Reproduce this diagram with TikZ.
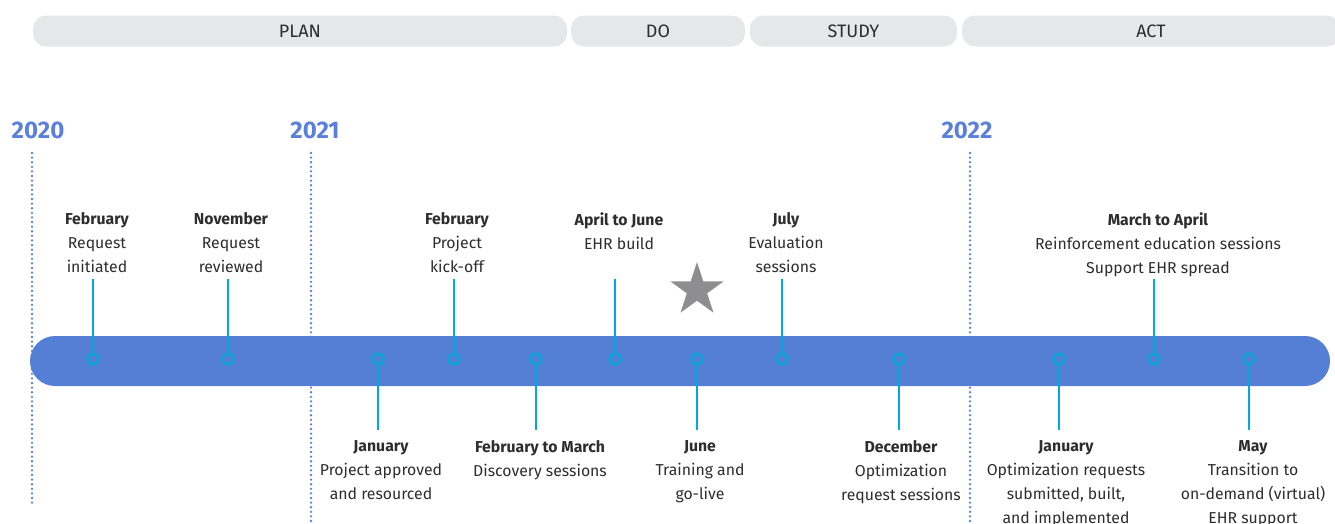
\documentclass[tikz,border=0pt]{standalone}
\usepackage{fontspec}
\setmainfont{Fira Sans}
\usetikzlibrary{shapes.geometric}
\definecolor{barblue}{HTML}{557FD5}
\definecolor{yearblue}{HTML}{5B80DB}
\definecolor{stemcyan}{HTML}{00A8DC}
\definecolor{phasegray}{HTML}{E6E7E9}
\definecolor{stargray}{HTML}{8E8E90}
\definecolor{textgray}{HTML}{2D2D2D}
\tikzset{
    phase-box/.style = {fill=phasegray, rounded corners=13pt, minimum height=31pt, inner sep=0pt, text=textgray, font=\fontsize{18}{18}\selectfont},
    year-label/.style = {text=yearblue, font=\bfseries\fontsize{24}{24}\selectfont},
    year-line/.style = {yearblue, line width=2.6pt, line cap=round, dash pattern=on 0pt off 4.6pt},
    event-mark/.style = {circle, draw=stemcyan, fill=barblue, line width=2.2pt, minimum size=11pt, inner sep=0pt},
    event-stem/.style = {stemcyan, line width=2.4pt},
    event-text/.style = {align=center, inner sep=0pt, anchor=north, text=textgray, font=\fontsize{15.8}{24}\selectfont},
}

\begin{document}
\begin{tikzpicture}[x=1pt, y=-1pt]
\clip (0,0) rectangle (1335,523);

% phases
\node[phase-box, minimum width=534pt] (plan) at (300,31) {PLAN};
\node[phase-box, minimum width=174pt] (do) at (658,31) {DO};
\node[phase-box, minimum width=207pt] (study) at (853.5,31) {STUDY};
\node[phase-box, minimum width=378pt] (act) at (1151,31) {ACT};

% years
\node[year-label] (y2020) at (38,130) {2020};
\node[year-label] (y2021) at (315,130) {2021};
\node[year-label] (y2022) at (967,130) {2022};
\coordinate (y2020-top) at (32,153);
\coordinate (y2020-end) at (32,505);
\coordinate (y2021-top) at (311,153);
\coordinate (y2021-end) at (311,525);
\coordinate (y2022-top) at (970,153);
\coordinate (y2022-end) at (970,525);
\draw[year-line] (y2020-top) -- (y2020-end);
\draw[year-line] (y2021-top) -- (y2021-end);
\draw[year-line] (y2022-top) -- (y2022-end);

% timeline
\node[fill=barblue, rounded corners=25pt, minimum width=1300pt, minimum height=50pt] (bar) at (680,361) {};
\node[star, star points=5, star point ratio=2.618, fill=stargray, minimum size=56pt, inner sep=0pt] (milestone) at (697,290) {};

% events above
\node[event-mark] (m-feb20) at (93,359) {};
\node[event-text] (t-feb20) at (97,212) {\textbf{February}\\Request\\initiated};
\coordinate (s-feb20) at (93,279);
\draw[event-stem] (s-feb20) -- (m-feb20);

\node[event-mark] (m-nov20) at (228,359) {};
\node[event-text] (t-nov20) at (231,212) {\textbf{November}\\Request\\reviewed};
\coordinate (s-nov20) at (228,279);
\draw[event-stem] (s-nov20) -- (m-nov20);

\node[event-mark] (m-feb21) at (454,359) {};
\node[event-text] (t-feb21) at (457,212) {\textbf{February}\\Project\\kick-off};
\coordinate (s-feb21) at (454,279);
\draw[event-stem] (s-feb21) -- (m-feb21);

\node[event-mark] (m-apr21) at (615,359) {};
\node[event-text] (t-apr21) at (619,212) {\textbf{April to June}\\EHR build};
\coordinate (s-apr21) at (615,279);
\draw[event-stem] (s-apr21) -- (m-apr21);

\node[event-mark] (m-jul21) at (782,359) {};
\node[event-text] (t-jul21) at (786,212) {\textbf{July}\\Evaluation\\sessions};
\coordinate (s-jul21) at (782,279);
\draw[event-stem] (s-jul21) -- (m-jul21);

\node[event-mark] (m-mar22) at (1154,359) {};
\node[event-text] (t-mar22) at (1158,212) {\textbf{March to April}\\Reinforcement education sessions\\Support EHR spread};
\coordinate (s-mar22) at (1154,279);
\draw[event-stem] (s-mar22) -- (m-mar22);

% events below
\node[event-mark] (m-jan21) at (378,359) {};
\node[event-text] (t-jan21) at (381,440) {\textbf{January}\\Project approved\\and resourced};
\coordinate (s-jan21) at (378,430);
\draw[event-stem] (m-jan21) -- (s-jan21);

\node[event-mark] (m-feb21b) at (536,359) {};
\node[event-text] (t-feb21b) at (540,440) {\textbf{February to March}\\Discovery sessions};
\coordinate (s-feb21b) at (536,430);
\draw[event-stem] (m-feb21b) -- (s-feb21b);

\node[event-mark] (m-jun21) at (697,359) {};
\node[event-text] (t-jun21) at (700,440) {\textbf{June}\\Training and\\go-live};
\coordinate (s-jun21) at (697,430);
\draw[event-stem] (m-jun21) -- (s-jun21);

\node[event-mark] (m-dec21) at (899,359) {};
\node[event-text] (t-dec21) at (901,440) {\textbf{December}\\Optimization\\request sessions};
\coordinate (s-dec21) at (899,430);
\draw[event-stem] (m-dec21) -- (s-dec21);

\node[event-mark] (m-jan22) at (1059,359) {};
\node[event-text] (t-jan22) at (1066,440) {\textbf{January}\\Optimization requests\\submitted, built,\\and implemented};
\coordinate (s-jan22) at (1059,430);
\draw[event-stem] (m-jan22) -- (s-jan22);

\node[event-mark] (m-may22) at (1249,359) {};
\node[event-text] (t-may22) at (1253,440) {\textbf{May}\\Transition to\\on-demand (virtual)\\EHR support};
\coordinate (s-may22) at (1249,430);
\draw[event-stem] (m-may22) -- (s-may22);
\end{tikzpicture}
\end{document}
